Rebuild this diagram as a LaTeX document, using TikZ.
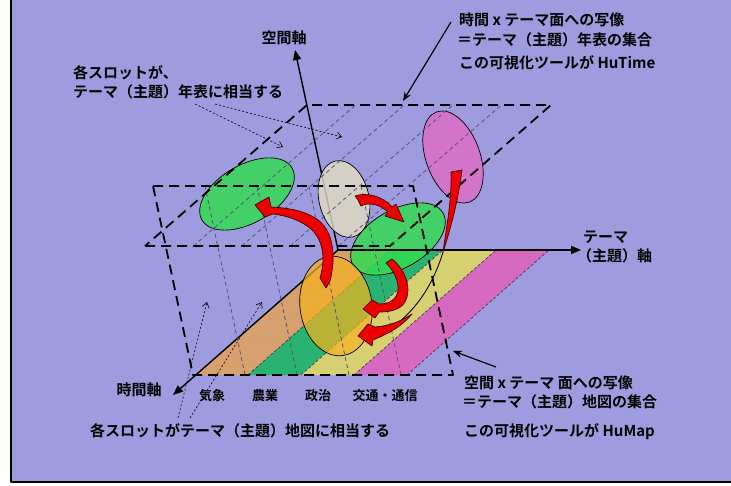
\documentclass[tikz,border=0pt]{standalone}
\usepackage{fontspec}
\newfontfamily\jp{Noto Sans CJK JP Bold}
\usetikzlibrary{arrows.meta,calc,shapes.geometric}
\definecolor{bgpurple}{RGB}{158,155,222}
\definecolor{stripor}{RGB}{212,160,118}
\definecolor{striporline}{RGB}{236,156,70}
\definecolor{stripgr}{RGB}{42,178,112}
\definecolor{stripye}{RGB}{214,208,112}
\definecolor{strippk}{RGB}{214,106,192}
\definecolor{ellgr}{RGB}{52,218,82}
\definecolor{ellbe}{RGB}{226,222,192}
\definecolor{ellpk}{RGB}{216,112,200}
\definecolor{ellor}{RGB}{246,178,30}
\definecolor{arrred}{RGB}{236,0,0}
\definecolor{arredge}{RGB}{70,0,0}
\definecolor{slotgray}{RGB}{85,85,115}
\definecolor{stripedge}{RGB}{50,50,80}
\tikzset{
  lbl/.style={font=\jp\fontsize{15}{18}\selectfont, inner sep=0pt, anchor=west},
  sml/.style={font=\jp\fontsize{13}{15}\selectfont, inner sep=0pt},
  planeedge/.style={line width=1.8pt, dash pattern=on 10pt off 6pt},
  slotline/.style={slotgray, line width=0.8pt, dash pattern=on 4pt off 3pt},
  stripline/.style={stripedge, line width=0.6pt, dash pattern=on 3pt off 2pt},
  axis/.style={line width=1.4pt, -{Triangle[length=10pt,width=8pt]}},
  ell/.style={ellipse, draw, line width=0.7pt, inner sep=0pt},
  redarr/.style={fill=arrred, draw=arredge, line width=0.7pt},
  noteline/.style={line width=0.6pt, dash pattern=on 2pt off 2pt, -{Straight Barb[length=5pt,width=7pt]}},
  pointer/.style={line width=1.2pt, -{Stealth[length=9pt,width=7pt]}}
}
\begin{document}
\begin{tikzpicture}[x=1pt,y=-1pt,line join=round]
\useasboundingbox (0,0) rectangle (731,486);
\fill[white] (0,0) rectangle (731,486);
\draw[line width=2.5pt, fill=bgpurple] (11,-5) rectangle (740,482);

% floor strips
\coordinate (b0) at (196,375); \coordinate (b1) at (248,375); \coordinate (b2) at (301,375);
\coordinate (b3) at (354,375); \coordinate (b4) at (407,375);
\coordinate (t0) at (338,250); \coordinate (t1) at (390,250); \coordinate (t2) at (443,250);
\coordinate (t3) at (496,250); \coordinate (t4) at (549,250);
\fill[stripor] (b0)--(b1)--(t1)--(t0)--cycle;
\begin{scope}
\clip (b0)--(b1)--(t1)--(t0)--cycle;
\foreach \yy in {252,258,...,378} \draw[striporline, line width=0.4pt, opacity=0.8] (180,\yy)--(400,\yy);
\end{scope}
\fill[stripgr] (b1)--(b2)--(t2)--(t1)--cycle;
\fill[stripye] (b2)--(b3)--(t3)--(t2)--cycle;
\fill[strippk] (b3)--(b4)--(t4)--(t3)--cycle;
\draw[stripline] (b1)--(t1); \draw[stripline] (b2)--(t2);
\draw[stripline] (b3)--(t3); \draw[stripline] (b4)--(t4);

% axes (time, space)
\coordinate (origin) at (338,250);
\coordinate (timeend) at (173,395);
\coordinate (spaceend) at (295,50);
\coordinate (themeend) at (581,250);
\draw[axis] (origin) -- (timeend);
\draw[axis] (origin) -- (spaceend);

% ellipses
\node[ell, fill=ellgr, fill opacity=0.85, draw opacity=1, minimum width=104pt, minimum height=58pt, rotate=30] (gL) at (247,194) {};
\node[ell, fill=ellbe, fill opacity=0.8, minimum width=50pt, minimum height=78pt, rotate=13] (be) at (344,199) {};
\node[ell, fill=ellpk, fill opacity=0.9, minimum width=54pt, minimum height=96pt, rotate=20] (pk) at (453,157) {};
\node[ell, fill=ellgr, fill opacity=0.85, minimum width=104pt, minimum height=58pt, rotate=30] (gR) at (398,239) {};
\node[ell, fill=ellor, fill opacity=0.7, minimum width=72pt, minimum height=100pt, rotate=8] (or) at (336,306) {};

% theme axis
\draw[axis] (origin) -- (themeend);

% slot lines upper plane
\foreach \i in {1,2,3,4} {
  \draw[slotline] ({145+\i*48.4},246) -- ({307+\i*48.6},105);
}
% slot lines vertical plane
\foreach \i in {1,2,3,4} {
  \draw[slotline] ({153+\i*52},186) -- ({193+\i*52},375);
}

% plane edges
\draw[planeedge] (145,246)--(390,246)--(551,105)--(307,105)--cycle;
\draw[planeedge] (153,186)--(413,186)--(453,375)--(193,375)--cycle;

% red arrows
% A: orange -> left green
\filldraw[redarr] (330,281) .. controls (336,258) and (334,232) .. (318,220)
  .. controls (306,211) and (290,208) .. (271,207) -- (269,197) -- (255,205) -- (265,217) -- (273,214)
  .. controls (290,216) and (303,222) .. (311,229) .. controls (323,240) and (326,258) .. (320,278)
  -- (326,288) -- cycle;
% B: beige -> right green
\filldraw[redarr] (355,196) .. controls (366,192) and (383,196) .. (392,207)
  -- (396,204) -- (404,222) -- (385,216) -- (388,212)
  .. controls (380,204) and (368,202) .. (361,206) -- (358,200) -- cycle;
% C: right green -> orange
\filldraw[redarr] (392,259) .. controls (406,270) and (412,290) .. (405,302)
  .. controls (400,310) and (390,312) .. (379,312) -- (375,318) -- (363,309) -- (372,300) -- (379,304)
  .. controls (390,304) and (397,299) .. (398,290) .. controls (399,280) and (393,270) .. (386,263) -- cycle;
% long arrow pink <-> orange
\filldraw[redarr] (451,172) -- (462,170) .. controls (459,195) and (452,225) .. (443,252)
  .. controls (446,230) and (452,200) .. (451,172) -- cycle;
\draw[line width=0.9pt] (443,252) .. controls (430,295) and (405,325) .. (367,342);
\filldraw[redarr] (412,314) .. controls (400,322) and (388,326) .. (375,327)
  -- (368,324) -- (358,336) -- (372,346) -- (373,340)
  .. controls (390,333) and (402,326) .. (412,314) -- cycle;

% labels
\node[lbl, anchor=center] (sax) at (284,38) {空間軸};
\node[lbl] (tl1) at (73,73) {各スロットが、};
\node[lbl] (tl2) at (73,92) {テーマ（主題）年表に相当する};
\node[lbl] (tr1) at (459,20) {時間 x テーマ面への写像};
\node[lbl] (tr2) at (457,40) {＝テーマ（主題）年表の集合};
\node[lbl] (tr3) at (459,63) {この可視化ツールが HuTime};
\node[lbl] (thm1) at (583,237) {テーマ};
\node[lbl] (thm2) at (577,256) {（主題）軸};
\node[lbl, anchor=center] (tax) at (139,390) {時間軸};
\node[sml] (n1) at (212,396) {気象};
\node[sml] (n2) at (265,396) {農業};
\node[sml] (n3) at (318,396) {政治};
\node[sml] (n4) at (385,396) {交通・通信};
\node[lbl] (bl) at (90,431) {各スロットがテーマ（主題）地図に相当する};
\node[lbl] (br1) at (464,383) {空間 x テーマ 面への写像};
\node[lbl] (br2) at (462,402) {＝テーマ（主題）地図の集合};
\node[lbl] (br3) at (464,432) {この可視化ツールが HuMap};

% note arrows
\coordinate (n1s) at (195,104); \coordinate (n1e) at (283,147);
\coordinate (n2s) at (215,104); \coordinate (n2e) at (342,137);
\coordinate (n3s) at (178,418); \coordinate (n3e) at (207,302);
\coordinate (n4s) at (190,418); \coordinate (n4e) at (262,302);
\draw[noteline] (n1s) -- (n1e);
\draw[noteline] (n2s) -- (n2e);
\draw[noteline] (n3s) -- (n3e);
\draw[noteline] (n4s) -- (n4e);
\coordinate (p1s) at (451,22); \coordinate (p1e) at (403,101);
\coordinate (p2s) at (496,367); \coordinate (p2e) at (453,351);
\draw[pointer] (p1s) -- (p1e);
\draw[pointer] (p2s) -- (p2e);
\end{tikzpicture}
\end{document}
